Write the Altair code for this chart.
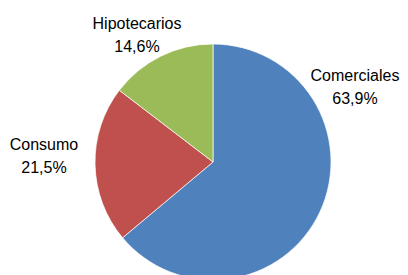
import altair as alt
import pandas as pd

categories = ["Comerciales", "Consumo", "Hipotecarios"]
values = [63.9, 21.5, 14.6]
colors = ["#4F81BD", "#C0504D", "#9BBB59"]

df = pd.DataFrame({"cat": categories, "val": values, "ord": [0, 1, 2]})

base = alt.Chart(df)

pie = base.mark_arc(stroke="white", strokeWidth=0.7).encode(
    theta=alt.Theta("val:Q", stack=True),
    order=alt.Order("ord:Q"),
    color=alt.Color("cat:N", scale=alt.Scale(domain=categories, range=colors), legend=None),
    x=alt.value(205),
    y=alt.value(154),
    radius=alt.value(118),
)

FONT = "Liberation Sans"

def label(cat, x, y, size=16):
    return base.transform_filter(alt.datum.cat == cat).transform_calculate(
        lab="[datum.cat, replace(format(datum.val, '.1f'), '.', ',') + '%']"
    ).mark_text(
        font=FONT, fontSize=size, lineHeight=22.5, baseline="alphabetic", align="center", color="black"
    ).encode(text="lab:N", x=alt.value(x), y=alt.value(y))

chart = alt.layer(
    pie,
    label("Hipotecarios", 129, 21),
    label("Comerciales", 347, 73),
    label("Consumo", 36, 142),
).properties(
    width=392, height=267, autosize=alt.AutoSizeParams(type="none"), padding=0
).configure_view(stroke=None)

chart.save("out.html", embed_options={"renderer": "svg", "actions": False})
